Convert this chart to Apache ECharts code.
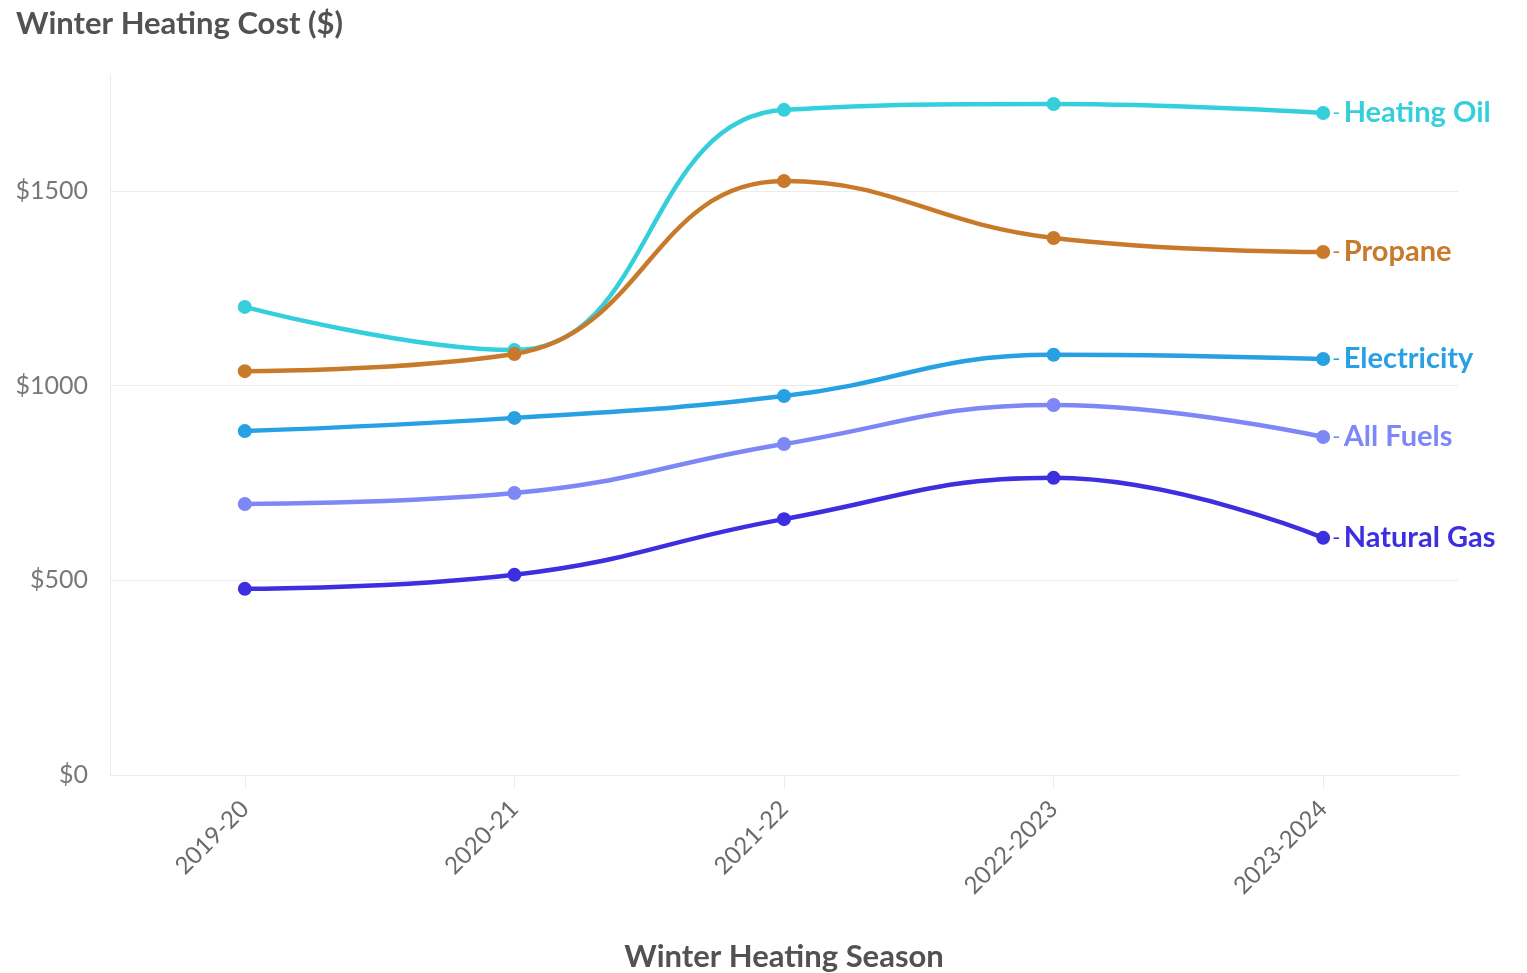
<!DOCTYPE html>
<html>
<head>
<meta charset="utf-8">
<script src="https://cdn.jsdelivr.net/npm/echarts@6/dist/echarts.min.js"></script>
<style>
  html, body { margin: 0; padding: 0; background: #ffffff; }
  #chart { width: 1527px; height: 973px; }
</style>
</head>
<body>
<div id="chart"></div>
<script>
// Winter heating seasons on the x axis
const seasons = ['2019-20', '2020-21', '2021-22', '2022-2023', '2023-2024'];

// Average winter heating cost per household, by fuel ($)
const heatingOil  = [1202, 1091, 1708, 1723, 1700];
const propane     = [1037, 1081, 1525, 1379, 1343];
const electricity = [883, 917, 973, 1079, 1068];
const allFuels    = [696, 724, 850, 950, 868];
const naturalGas  = [478, 514, 657, 763, 609];

const yTicks = [0, 500, 1000, 1500];

const fuels = [
  { name: 'Heating Oil', data: heatingOil,  color: '#35cfdc' },
  { name: 'Propane',     data: propane,     color: '#c8792a' },
  { name: 'Electricity', data: electricity, color: '#27a0e4' },
  { name: 'All Fuels',   data: allFuels,    color: '#7d87f6' },
  { name: 'Natural Gas', data: naturalGas,  color: '#3d2fe0' }
];

const FONT = 'Lato, "Open Sans", "Noto Sans", sans-serif';

const chart = echarts.init(document.getElementById('chart'));

chart.setOption({
  animation: false,
  backgroundColor: '#ffffff',
  title: {
    text: 'Winter Heating Cost ($)',
    left: 11,
    top: 3,
    textStyle: { fontFamily: FONT, fontSize: 31, fontWeight: 'bold', color: '#525252' }
  },
  grid: { left: 110, right: 69, top: 74, bottom: 198, containLabel: false, outerBoundsMode: 'none' },
  xAxis: {
    type: 'category',
    data: seasons,
    boundaryGap: true,
    name: 'Winter Heating Season',
    nameLocation: 'middle',
    nameGap: 166,
    nameTextStyle: { fontFamily: FONT, fontSize: 31, fontWeight: 'bold', color: '#525252' },
    axisLine: { show: true, lineStyle: { color: '#ececec', width: 1 } },
    axisTick: { show: true, alignWithLabel: true, length: 14, lineStyle: { color: '#ececec' } },
    axisLabel: {
      rotate: 45,
      margin: 30,
      fontFamily: FONT,
      fontSize: 24,
      color: '#6a6a6a'
    },
    splitLine: { show: false }
  },
  yAxis: {
    type: 'value',
    min: 0,
    max: 1800,
    interval: 500,
    axisLine: { show: true, lineStyle: { color: '#ececec', width: 1 } },
    axisTick: { show: false },
    axisLabel: {
      margin: 22,
      fontFamily: FONT,
      fontSize: 25,
      color: '#787878',
      formatter: v => (yTicks.includes(v) ? '$' + v : '')
    },
    splitLine: { show: true, showMaxLine: false, lineStyle: { color: '#ececec', width: 1 } }
  },
  series: fuels.map(f => ({
    name: f.name,
    type: 'line',
    data: f.data,
    smooth: 0.45,
    symbol: 'circle',
    symbolSize: 14,
    showSymbol: true,
    itemStyle: { color: f.color },
    lineStyle: { color: f.color, width: 4.5 },
    endLabel: {
      show: true,
      distance: 9,
      formatter: '{d|-} {n|' + f.name + '}',
      rich: {
        d: { fontFamily: FONT, fontSize: 22, color: f.color },
        n: { fontFamily: FONT, fontSize: 29, fontWeight: 'bold', color: f.color }
      }
    },
    emphasis: { disabled: true }
  }))
});
</script>
</body>
</html>
